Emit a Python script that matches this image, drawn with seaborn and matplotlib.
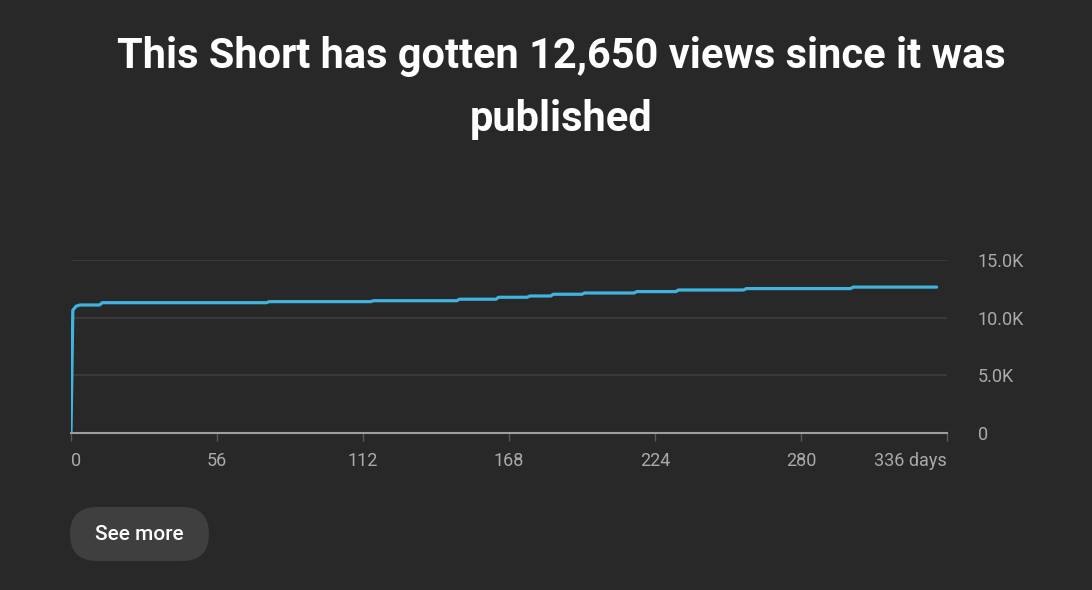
import matplotlib
matplotlib.use("Agg")
import matplotlib.pyplot as plt
from matplotlib.patches import FancyBboxPatch
from matplotlib.transforms import IdentityTransform
import seaborn as sns
import pandas as pd

# ---- data ----
days = [0, 0.7, 2, 3.5, 11, 12, 75, 76, 115, 116, 148, 149, 163, 164, 175, 176,
        184, 185, 196, 197, 216, 217, 232, 233, 258, 259, 299, 300, 332]
views = [0, 10650, 11000, 11100, 11100, 11300, 11300, 11390, 11390, 11470, 11470,
         11600, 11600, 11770, 11770, 11880, 11880, 12030, 12030, 12140, 12140,
         12260, 12260, 12400, 12400, 12520, 12520, 12650, 12650]
x_ticks = [0, 56, 112, 168, 224, 280, 336]
x_tick_labels = ["0", "56", "112", "168", "224", "280", "336 days"]
y_ticks = [0, 5000, 10000, 15000]
y_tick_labels = ["0", "5.0K", "10.0K", "15.0K"]
title = "This Short has gotten 12,650 views since it was\npublished"
button_text = "See more"

BG = "#282828"
GRID = "#3d3d3d"
TXT = "#aaaaaa"
LINE = "#3fb4df"

sns.set_theme(style="dark")
plt.rcParams["font.family"] = ["Roboto", "DejaVu Sans"]

W, H = 1092, 590
fig = plt.figure(figsize=(W / 100, H / 100), dpi=100, facecolor=BG)
ax = fig.add_axes([71 / W, (H - 433) / H, (947 - 71) / W, (433 - 260) / H])
ax.set_facecolor(BG)

df = pd.DataFrame({"day": days, "views": views})
sns.lineplot(data=df, x="day", y="views", ax=ax, color=LINE, linewidth=2.3,
             solid_joinstyle="round", solid_capstyle="round")

ax.set_xlim(0, 336)
ax.set_ylim(0, 15000)
ax.set_xlabel("")
ax.set_ylabel("")

for s in ["top", "left", "right"]:
    ax.spines[s].set_visible(False)
ax.spines["bottom"].set_color("#9e9e9e")
ax.spines["bottom"].set_linewidth(1.5)
ax.spines["bottom"].set_zorder(1)

for yv in y_ticks[1:]:
    ax.axhline(yv, color=GRID, linewidth=1.2, zorder=0)
ax.grid(False)

ax.set_xticks(x_ticks)
ax.set_xticklabels(x_tick_labels, fontsize=13, color=TXT)
ax.tick_params(axis="x", length=6, width=1, color="#5a5a5a", pad=8, bottom=True)
xl = ax.get_xticklabels()
xl[0].set_ha("left")
xl[-1].set_ha("right")

ax.yaxis.tick_right()
ax.set_yticks(y_ticks)
ax.set_yticklabels(y_tick_labels, fontsize=13, color=TXT)
ax.tick_params(axis="y", length=0, pad=22.3, right=False, left=False)
for t in ax.get_yticklabels():
    t.set_ha("left")

fig.text(561 / W, 1 - 88 / H, title, ha="center", va="center", color="white",
         fontsize=29.9, fontweight="bold", linespacing=1.69)

# pill-shaped button in pixel coordinates
btn = FancyBboxPatch((70, H - 561), 209 - 70, 561 - 507,
                     boxstyle="round,pad=0,rounding_size=27",
                     transform=IdentityTransform(), facecolor="#3f3f3f",
                     edgecolor="none")
fig.patches.append(btn)
fig.text(139.5 / W, 1 - 534 / H, button_text, ha="center", va="center",
         color="white", fontsize=15, fontweight="medium")

fig.savefig("out.png", dpi=100, facecolor=BG)
